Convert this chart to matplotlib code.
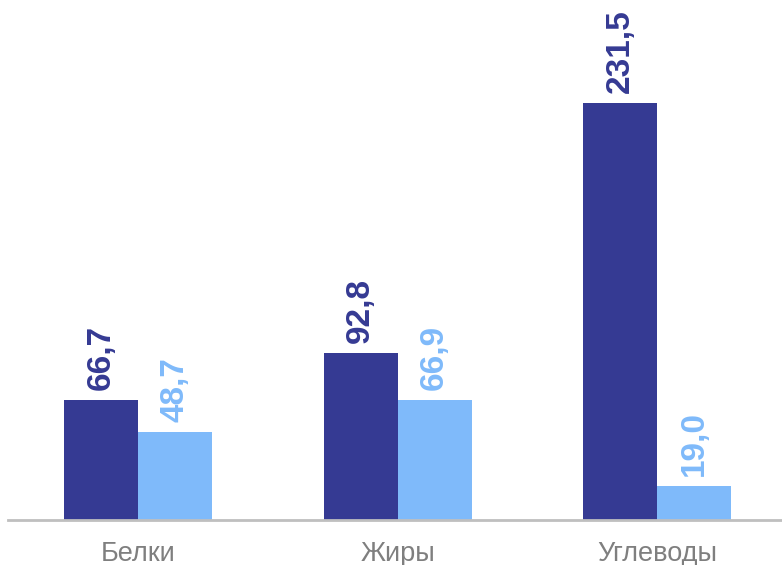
import matplotlib
matplotlib.use("Agg")
import matplotlib.pyplot as plt
import numpy as np

categories = ["Белки", "Жиры", "Углеводы"]
series1 = [66.7, 92.8, 231.5]
series2 = [48.7, 66.9, 19.0]
labels1 = ["66,7", "92,8", "231,5"]
labels2 = ["48,7", "66,9", "19,0"]

dark = "#353A93"
light = "#7FBAFA"

fig = plt.figure(figsize=(7.82, 5.65), dpi=100)
ax = fig.add_axes([8/782, (565-520)/565, 774/782, 520/565])
x = np.arange(len(categories))
w = 0.285
b1 = ax.bar(x - w/2, series1, w, color=dark)
b2 = ax.bar(x + w/2, series2, w, color=light)

ax.set_xlim(-0.5, 2.48)
ax.set_ylim(0, 520/1.801)

for bars, labs, col in [(b1, labels1, dark), (b2, labels2, light)]:
    for rect, lab in zip(bars, labs):
        ax.annotate(lab, (rect.get_x() + rect.get_width()/2, rect.get_height()),
                    xytext=(0, 10), textcoords="offset pixels", rotation=90,
                    ha="center", va="bottom", fontsize=24, fontweight="bold",
                    color=col, family="Liberation Sans")

for s in ["top", "right", "left"]:
    ax.spines[s].set_visible(False)
ax.spines["bottom"].set_color("#BFBFBF")
ax.spines["bottom"].set_linewidth(2)
ax.set_yticks([])
ax.set_xticks(x)
ax.set_xticklabels(categories, fontsize=19.5, color="#7F7F7F", family="Liberation Sans")
ax.tick_params(axis="x", length=0, pad=15)

fig.savefig("out.png", dpi=100)
